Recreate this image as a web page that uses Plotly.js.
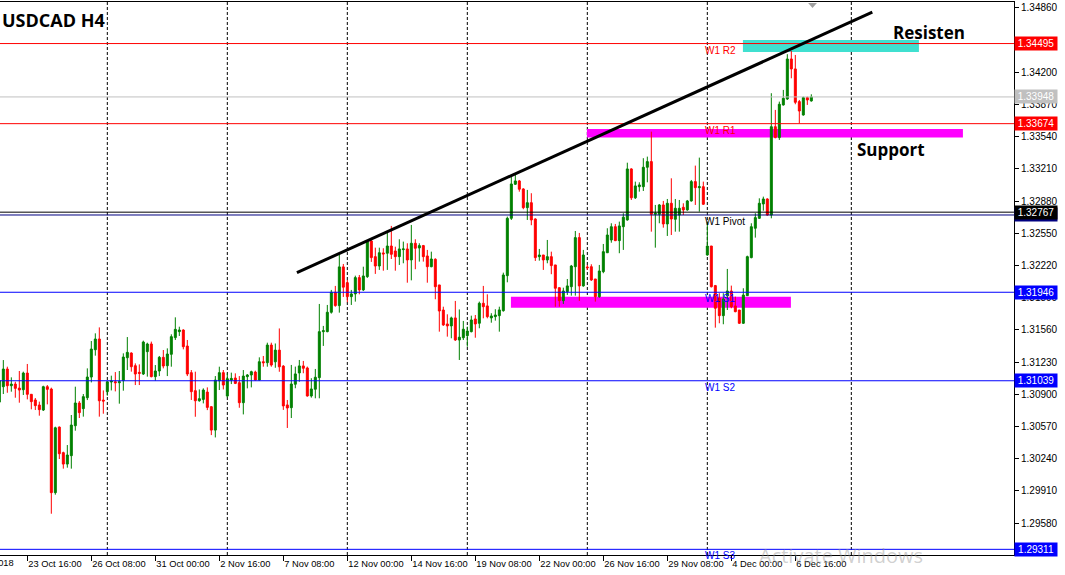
<!DOCTYPE html>
<html>
<head>
<meta charset="utf-8">
<script src="https://cdn.plot.ly/plotly-3.0.1.min.js"></script>
<style>html,body{margin:0;padding:0;background:#fff;}#chart{width:1065px;height:575px;}</style>
</head>
<body>
<div id="chart"></div>
<script>
// USDCAD H4 candles (first visible bar = 22 Oct 2018 12:00, index -1)
const firstBar = -1;
const openP = [
1.30820,1.30978,1.31159,1.30988,1.31005,1.30964,1.30947,1.31118,1.30900,1.30842,
1.30790,1.30739,1.30978,1.30954,1.29892,1.30564,1.30302,1.30185,1.30271,1.30578,
1.30811,1.30753,1.30865,1.31077,1.31357,1.31467,1.30841,1.30927,1.31026,1.31029,
1.31019,1.31040,1.31275,1.31323,1.31193,1.31125,1.31108,1.31337,1.31416,1.31081,
1.31139,1.31279,1.31193,1.31310,1.31481,1.31542,1.31559,1.31395,1.31122,1.30937,
1.30834,1.30848,1.30923,1.30773,1.30533,1.31039,1.31122,1.30882,1.31046,1.31067,
1.31019,1.30814,1.31081,1.31098,1.31128,1.31046,1.31234,1.31224,1.31405,1.31233,
1.31353,1.31189,1.30791,1.30763,1.31003,1.31119,1.31191,1.31170,1.30883,1.30952,
1.31071,1.31542,1.31542,1.31741,1.31946,1.31809,1.32206,1.32044,1.31901,1.31929,
1.32096,1.31970,1.32106,1.32472,1.32311,1.32215,1.32349,1.32346,1.32420,1.32369,
1.32311,1.32383,1.32390,1.32277,1.32448,1.32400,1.32424,1.32318,1.32208,1.32284,
1.32021,1.31764,1.31621,1.31601,1.31683,1.31457,1.31480,1.31501,1.31542,1.31672,
1.31628,1.31833,1.31806,1.31683,1.31696,1.31706,1.31757,1.32116,1.32704,1.33053,
1.33087,1.33005,1.32813,1.32864,1.32697,1.32311,1.32328,1.32277,1.32311,1.32226,
1.31993,1.31860,1.31952,1.32003,1.32208,1.32506,1.32011,1.32205,1.32208,1.32082,
1.31901,1.32157,1.32351,1.32482,1.32618,1.32475,1.32618,1.32687,1.33210,1.32914,
1.33028,1.33028,1.33227,1.33285,1.32745,1.32745,1.32841,1.32646,1.32858,1.32694,
1.32738,1.32817,1.32790,1.32882,1.33080,1.33018,1.33028,1.32328,1.32420,1.32014,
1.31884,1.31706,1.31911,1.31959,1.31806,1.31764,1.31628,1.31911,1.32301,1.32602,
1.32704,1.32851,1.32902,1.32738,1.33643,1.33531,1.33866,1.33927,1.34337,1.34235,
1.33900,1.33763,1.33941,1.33907];
const highP = [
1.31060,1.31251,1.31183,1.31074,1.31029,1.31139,1.31132,1.31211,1.30903,1.30862,
1.30825,1.30988,1.30995,1.30968,1.30568,1.30570,1.30312,1.30380,1.30688,1.30978,
1.30831,1.30903,1.31166,1.31446,1.31525,1.31586,1.30940,1.31036,1.31091,1.31128,
1.31139,1.31320,1.31487,1.31330,1.31217,1.31207,1.31450,1.31429,1.31440,1.31200,
1.31293,1.31354,1.31371,1.31515,1.31689,1.31593,1.31566,1.31457,1.31149,1.31132,
1.30950,1.30961,1.30971,1.30780,1.31087,1.31183,1.31149,1.31115,1.31122,1.31115,
1.31087,1.31149,1.31108,1.31142,1.31142,1.31279,1.31293,1.31429,1.31429,1.31421,
1.31575,1.31199,1.30842,1.31201,1.31184,1.31252,1.31242,1.31184,1.31065,1.31160,
1.31826,1.31601,1.31816,1.31970,1.32011,1.32328,1.32236,1.32072,1.31970,1.32116,
1.32123,1.32208,1.32482,1.32482,1.32403,1.32403,1.32397,1.32567,1.32626,1.32413,
1.32489,1.32465,1.32448,1.32636,1.32489,1.32448,1.32431,1.32380,1.32362,1.32294,
1.32021,1.31798,1.31720,1.31696,1.31857,1.31770,1.31652,1.31593,1.31706,1.31713,
1.31850,1.32011,1.31925,1.31731,1.31772,1.31798,1.32147,1.32721,1.33148,1.33155,
1.33097,1.33012,1.32995,1.32961,1.32704,1.32390,1.32328,1.32482,1.32362,1.32226,
1.31993,1.31993,1.32082,1.32226,1.32574,1.32554,1.32380,1.32226,1.32233,1.32082,
1.32226,1.32441,1.32602,1.32653,1.32646,1.32670,1.32756,1.33274,1.33217,1.33080,
1.33073,1.33320,1.33336,1.33592,1.32841,1.32850,1.32882,1.32902,1.33114,1.32902,
1.32892,1.32858,1.32892,1.33097,1.33244,1.33326,1.33080,1.32670,1.32420,1.32021,
1.31936,1.31936,1.32185,1.32014,1.31901,1.31764,1.31987,1.32321,1.32653,1.32756,
1.32909,1.32926,1.32909,1.33986,1.33815,1.33900,1.34020,1.34386,1.34419,1.34378,
1.33917,1.33951,1.33951,1.33975];
const lowP = [
1.30800,1.30903,1.30916,1.30927,1.30865,1.30814,1.30893,1.30848,1.30746,1.30739,
1.30681,1.30729,1.30797,1.29676,1.29871,1.30237,1.30138,1.30148,1.30138,1.30527,
1.30657,1.30671,1.30841,1.31022,1.31296,1.30671,1.30701,1.30886,1.30940,1.30930,
1.30804,1.30937,1.31149,1.31132,1.30995,1.30995,1.31098,1.31081,1.31074,1.31039,
1.31087,1.31166,1.31087,1.31183,1.31457,1.31498,1.31361,1.31087,1.30842,1.30670,
1.30824,1.30807,1.30738,1.30482,1.30458,1.30944,1.30950,1.30868,1.31005,1.31005,
1.30762,1.30694,1.30961,1.30971,1.31040,1.31040,1.31183,1.31183,1.31183,1.31172,
1.31131,1.30740,1.30555,1.30657,1.30962,1.31029,1.31116,1.30876,1.30866,1.30859,
1.30859,1.31396,1.31536,1.31727,1.31798,1.31737,1.31898,1.31844,1.31816,1.31850,
1.31925,1.31959,1.32093,1.32257,1.32134,1.32175,1.32167,1.32175,1.32287,1.32167,
1.32226,1.32243,1.32044,1.32068,1.32182,1.32260,1.32260,1.32044,1.32202,1.31874,
1.31542,1.31601,1.31491,1.31474,1.31447,1.31252,1.31457,1.31388,1.31535,1.31480,
1.31577,1.31679,1.31679,1.31634,1.31655,1.31542,1.31747,1.32048,1.32687,1.33046,
1.32977,1.32797,1.32687,1.32633,1.32267,1.32270,1.32175,1.32243,1.32131,1.31798,
1.31798,1.31826,1.31918,1.31911,1.31911,1.31857,1.32003,1.32175,1.32062,1.31850,
1.31890,1.32141,1.32349,1.32454,1.32470,1.32346,1.32380,1.32680,1.32892,1.32902,
1.32977,1.32984,1.33073,1.32567,1.32403,1.32653,1.32608,1.32523,1.32533,1.32567,
1.32567,1.32738,1.32782,1.32875,1.32841,1.32772,1.32841,1.32321,1.31995,1.31583,
1.31628,1.31618,1.31764,1.31782,1.31741,1.31621,1.31621,1.31911,1.32294,1.32506,
1.32697,1.32782,1.32731,1.32704,1.33524,1.33507,1.33859,1.33917,1.34139,1.33873,
1.33678,1.33756,1.33866,1.33900];
const closeP = [
1.31040,1.31159,1.30988,1.31005,1.30961,1.30944,1.31118,1.30900,1.30825,1.30784,
1.30743,1.30978,1.30951,1.29892,1.30557,1.30291,1.30185,1.30278,1.30585,1.30811,
1.30712,1.30876,1.31077,1.31364,1.31467,1.30834,1.30831,1.31029,1.31036,1.31019,
1.31029,1.31282,1.31330,1.31183,1.31108,1.31115,1.31436,1.31416,1.31081,1.31139,
1.31279,1.31190,1.31313,1.31491,1.31566,1.31559,1.31388,1.31108,1.30927,1.30834,
1.30855,1.30944,1.30766,1.30533,1.31046,1.31122,1.30995,1.31060,1.31063,1.31012,
1.30814,1.31087,1.31098,1.31132,1.31046,1.31234,1.31224,1.31405,1.31200,1.31353,
1.31182,1.30781,1.30760,1.31006,1.31109,1.31191,1.31167,1.30883,1.30955,1.31075,
1.31542,1.31552,1.31741,1.31946,1.31809,1.32206,1.31998,1.31901,1.31929,1.32096,
1.31970,1.32113,1.32467,1.32301,1.32215,1.32351,1.32339,1.32420,1.32335,1.32311,
1.32390,1.32390,1.32277,1.32448,1.32397,1.32424,1.32311,1.32208,1.32287,1.32003,
1.31754,1.31611,1.31601,1.31683,1.31457,1.31485,1.31567,1.31549,1.31662,1.31621,
1.31833,1.31798,1.31696,1.31703,1.31713,1.31765,1.32123,1.32704,1.33056,1.33087,
1.33002,1.32813,1.32864,1.32687,1.32301,1.32328,1.32277,1.32311,1.32219,1.31987,
1.31860,1.31959,1.32011,1.32215,1.32506,1.32011,1.32328,1.32198,1.32072,1.31901,
1.32164,1.32362,1.32533,1.32618,1.32475,1.32626,1.32715,1.33210,1.32914,1.33036,
1.33046,1.33227,1.33285,1.32745,1.32756,1.32841,1.32646,1.32858,1.32697,1.32807,
1.32807,1.32790,1.32882,1.33080,1.33018,1.33028,1.32848,1.32420,1.32003,1.31782,
1.31706,1.31877,1.31959,1.31798,1.31747,1.31628,1.31918,1.32311,1.32618,1.32711,
1.32858,1.32902,1.32738,1.33643,1.33531,1.33873,1.33934,1.34337,1.34235,1.33893,
1.33804,1.33941,1.33917,1.33948];

// time axis labels (bar index, text)
const tickBars = [6,22,38,54,70,86,102,118,134,150,166,182,198];
const tickLabels = ["23 Oct 16:00","26 Oct 08:00","31 Oct 00:00","2 Nov 16:00","7 Nov 08:00","12 Nov 00:00","14 Nov 16:00","19 Nov 08:00","22 Nov 00:00","26 Nov 16:00","29 Nov 08:00","4 Dec 00:00","6 Dec 16:00"];
const gridBars = [26,56,86,116,146,176,212];
const priceTicks = [1.29580,1.29910,1.30240,1.30570,1.30900,1.31230,1.31560,1.31890,1.32220,1.32550,1.32880,1.33210,1.33540,1.33870,1.34200,1.34530,1.34860];
const hiddenTicks = [1.34530];

// weekly pivot levels
const pivotNames = ["W1 R2","W1 R1","W1 Pivot","W1 S1","W1 S2","W1 S3"];
const pivotPrices = [1.34495,1.33674,1.32738,1.31946,1.31039,1.29311];
const pivotLineColors = ["#ff0000","#ff0000","#000080","#0000ff","#0000ff","#0000ff"];
const pivotTextColors = ["#ff0000","#ff0000","#000000","#0000ff","#0000ff","#0000ff"];
const bidPrice = 1.33948;
const markPrice = 1.32767;

// drawn objects
const trendBars = [73.4, 217.25];
const trendPrices = [1.32147, 1.34816];
const zoneBars = [[184.9,228.9],[145.9,239.9],[126.9,196.9]];
const zonePrices = [[1.34409,1.34532],[1.33533,1.33620],[1.31788,1.31901]];
const zoneColors = ["#40e0d0","#ff00ff","#ff00ff"];

const FONT = "Liberation Sans, Arial, sans-serif";
const bars = openP.map((_, i) => i + firstBar);

const trace = {
  type: "candlestick",
  x: bars, open: openP, high: highP, low: lowP, close: closeP,
  increasing: {line: {color: "#008000", width: 1}, fillcolor: "#008000"},
  decreasing: {line: {color: "#ff0000", width: 1}, fillcolor: "#ff0000"},
  whiskerwidth: 0,
  hoverinfo: "skip",
  showlegend: false
};

const shapes = [];
gridBars.forEach(g => shapes.push({type: "line", xref: "x", yref: "paper", x0: g, x1: g, y0: 0, y1: 1,
  line: {color: "#000000", width: 1, dash: "3px,2px"}, layer: "below"}));
zoneBars.forEach((zb, i) => shapes.push({type: "rect", xref: "x", yref: "y", x0: zb[0], x1: zb[1],
  y0: zonePrices[i][0], y1: zonePrices[i][1], fillcolor: zoneColors[i], line: {width: 0}, layer: "below"}));
shapes.push({type: "line", xref: "paper", yref: "y", x0: 0, x1: 1, y0: bidPrice, y1: bidPrice, line: {color: "#c0c0c0", width: 1}});
pivotPrices.forEach((p, i) => shapes.push({type: "line", xref: "paper", yref: "y", x0: 0, x1: 1, y0: p, y1: p,
  line: {color: pivotLineColors[i], width: 1}}));
shapes.push({type: "line", xref: "paper", yref: "y", x0: 0, x1: 1, y0: markPrice, y1: markPrice, line: {color: "#000000", width: 1}});
shapes.push({type: "line", xref: "x", yref: "y", x0: trendBars[0], x1: trendBars[1], y0: trendPrices[0], y1: trendPrices[1],
  line: {color: "#000000", width: 3}});
shapes.push({type: "path", xref: "x", yref: "paper", path: "M 201.2 0.998 L 203.4 0.998 L 202.3 0.989 Z",
  fillcolor: "#a0a0a0", line: {width: 0}});

const annotations = [];
// level names
pivotNames.forEach((n, i) => annotations.push({xref: "x", yref: "y", x: 174.9, y: pivotPrices[i], xanchor: "left", yanchor: "top",
  yshift: 1, text: n, showarrow: false, font: {family: FONT, size: 10, color: pivotTextColors[i]}}));
// price boxes on axis
function priceBox(p, bg, fg) {
  annotations.push({xref: "paper", yref: "y", x: 1, y: p, xanchor: "left", yanchor: "middle", xshift: 0,
    text: p.toFixed(5), showarrow: false, bgcolor: bg, borderpad: 1, width: 40, height: 11,
    font: {family: FONT, size: 10, color: fg}});
}
priceBox(pivotPrices[0], "#ff0000", "#ffffff");
priceBox(bidPrice, "#c0c0c0", "#ffffff");
priceBox(pivotPrices[1], "#ff0000", "#ffffff");
priceBox(pivotPrices[2], "#000080", "#ffffff");
priceBox(markPrice, "#000000", "#ffffff");
priceBox(pivotPrices[3], "#0000ff", "#ffffff");
priceBox(pivotPrices[4], "#0000ff", "#ffffff");
priceBox(pivotPrices[5], "#0000ff", "#ffffff");
// titles and notes
annotations.push({xref: "paper", yref: "y", x: 0, y: 1.34732, xanchor: "left", yanchor: "middle", text: "<b>USDCAD H4</b>",
  showarrow: false, font: {family: "Open Sans, sans-serif", size: 18, color: "#000000"}});
annotations.push({xref: "x", yref: "y", x: 231.4, y: 1.34609, xanchor: "center", yanchor: "middle", text: "<b>Resisten</b>",
  showarrow: false, font: {family: "Open Sans, sans-serif", size: 17, color: "#000000"}});
annotations.push({xref: "x", yref: "y", x: 221.9, y: 1.33410, xanchor: "center", yanchor: "middle", text: "<b>Support</b>",
  showarrow: false, font: {family: "Open Sans, sans-serif", size: 17, color: "#000000"}});
annotations.push({xref: "paper", yref: "paper", x: 16/1014, y: 0, xanchor: "right", yanchor: "top", yshift: -1,
  text: "22 Oct 2018", showarrow: false, font: {family: FONT, size: 9.3, color: "#000000"}});
annotations.push({xref: "paper", yref: "paper", x: 757/1014, y: 0, xanchor: "left", yanchor: "middle", yshift: 0,
  text: "Activate Windows", showarrow: false, font: {family: "Open Sans, sans-serif", size: 20, color: "rgba(150,150,150,0.45)"}});
annotations.push({xref: "paper", yref: "paper", x: 757/1014, y: 0, xanchor: "left", yanchor: "top", yshift: -16,
  text: "Go to PC settings to activate Windows.", showarrow: false, font: {family: "Open Sans, sans-serif", size: 13, color: "rgba(150,150,150,0.45)"}});

const layout = {
  width: 1065, height: 575,
  margin: {l: 0, r: 51, t: 2, b: 20, pad: 0},
  paper_bgcolor: "#ffffff", plot_bgcolor: "#ffffff",
  showlegend: false, hovermode: false, dragmode: false,
  font: {family: FONT, size: 10, color: "#000000"},
  xaxis: {
    range: [-0.83, 252.67], showgrid: false, zeroline: false,
    showline: true, mirror: true, linecolor: "#000000", linewidth: 1,
    ticks: "outside", ticklen: 5, tickcolor: "#000000", tickwidth: 1,
    tickmode: "array", tickvals: tickBars, ticktext: tickLabels,
    ticklabelposition: "outside right", tickangle: 0, automargin: false,
    tickfont: {family: FONT, size: 9.3, color: "#000000"},
    rangeslider: {visible: false}, fixedrange: true
  },
  yaxis: {
    side: "right", range: [1.29253, 1.34921], showgrid: false, zeroline: false,
    showline: true, mirror: true, linecolor: "#000000", linewidth: 1,
    ticks: "outside", ticklen: 4, tickcolor: "#000000", tickwidth: 1,
    tickmode: "array", tickvals: priceTicks,
    ticktext: priceTicks.map(v => hiddenTicks.includes(v) ? "" : v.toFixed(5)),
    automargin: false,
    tickfont: {family: FONT, size: 10, color: "#000000"}, fixedrange: true
  },
  shapes: shapes,
  annotations: annotations
};

Plotly.newPlot("chart", [trace], layout, {staticPlot: true, displayModeBar: false});
</script>
</body>
</html>
